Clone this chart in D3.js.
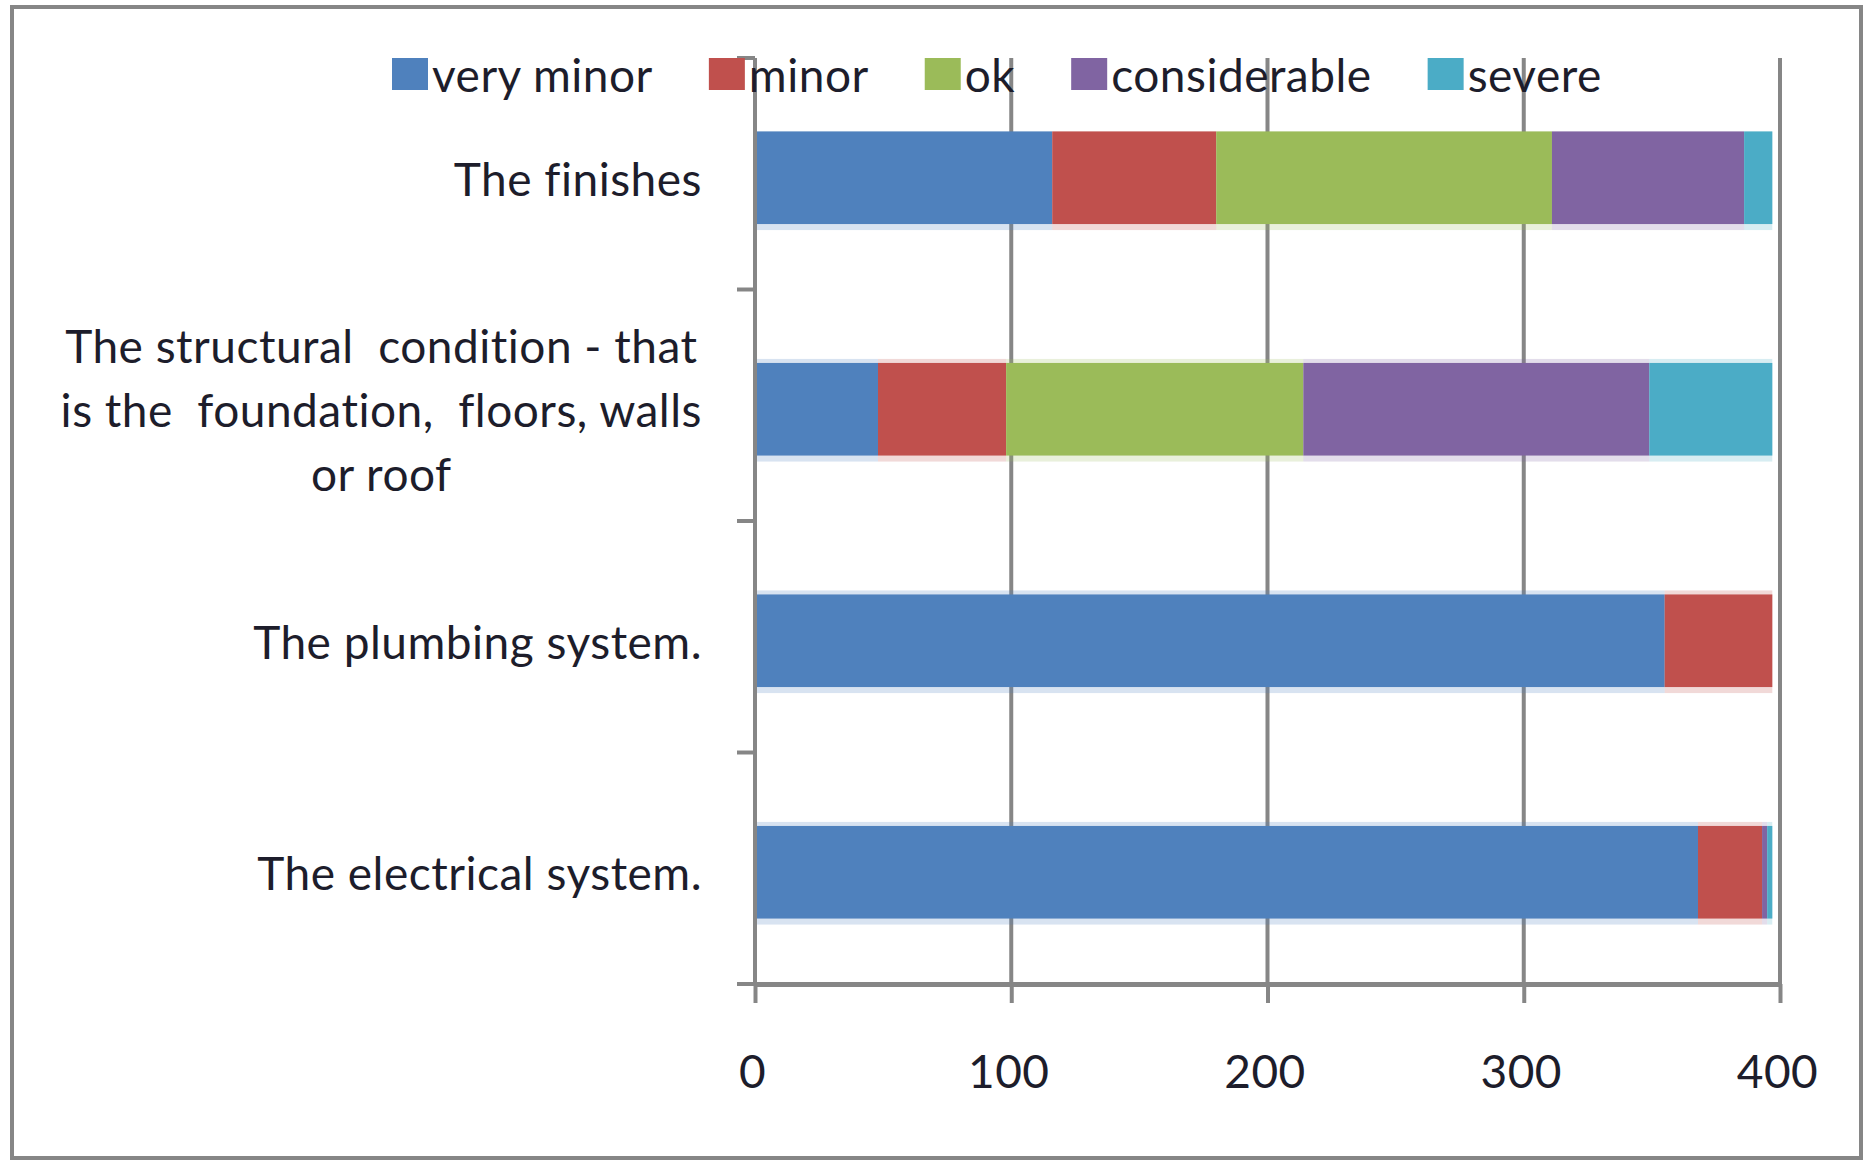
<!DOCTYPE html>
<html>
<head>
<meta charset="utf-8">
<script src="https://cdn.jsdelivr.net/npm/d3@7"></script>
<style>
  body { margin: 0; background: #fff; }
  text { font-family: Lato, "Liberation Sans", sans-serif; fill: #1d1d2b; white-space: pre; letter-spacing: 0.5px; }
</style>
</head>
<body>
<script>
// categories (top to bottom) and how excel wrapped them on the axis
var categories = ["The finishes", "The structural condition", "The plumbing system.", "The electrical system."]
var categoryLines = [
  ["The finishes"],
  ["The structural  condition - that", "is the  foundation,  floors, walls", "or roof"],
  ["The plumbing system."],
  ["The electrical system."]
]

// series, one value per category
var seriesNames = ["very minor", "minor", "ok", "considerable", "severe"]
var veryMinor = [116, 48, 355, 368]
var minor = [64, 50, 42, 25]
var ok = [131, 116, 0, 0]
var considerable = [75, 135, 0, 2]
var severe = [11, 48, 0, 2]

var xTicks = [0, 100, 200, 300, 400]
var colors = ["#4F81BD", "#C0504D", "#9BBB59", "#8064A2", "#4BACC6"]

// set the dimensions and margins of the graph
var width = 1865,
    height = 1160,
    margin = {top: 58, left: 755, right: 85, bottom: 176},
    innerW = width - margin.left - margin.right,
    innerH = height - margin.top - margin.bottom,
    gridColor = "#868686",
    fontSize = 46

// one row per category for the stack
var rows = categories.map(function(c, i) {
  return {category: c, "very minor": veryMinor[i], "minor": minor[i], "ok": ok[i],
          "considerable": considerable[i], "severe": severe[i]}
})
var stacked = d3.stack().keys(seriesNames)(rows)

var x = d3.scaleLinear()
  .domain([0, 400])
  .range([0, innerW])

var y = d3.scaleBand()
  .domain(categories)
  .range([0, innerH])
  .paddingInner(0.6)
  .paddingOuter(0.3)

var color = d3.scaleOrdinal()
  .domain(seriesNames)
  .range(colors)

let svg = d3.select("body")
  .append("svg")
    .attr("width", width)
    .attr("height", height)

// outer chart frame
svg.append("rect")
  .attr("x", 12).attr("y", 7)
  .attr("width", width - 16).attr("height", height - 9)
  .attr("fill", "none")
  .attr("stroke", gridColor)
  .attr("stroke-width", 4)

let g = svg.append("g")
  .attr("transform", "translate(" + margin.left + "," + margin.top + ")")

// vertical gridlines
g.selectAll(".grid")
  .data(xTicks)
  .enter()
  .append("line")
    .attr("class", "grid")
    .attr("x1", function(d) { return x(d) })
    .attr("x2", function(d) { return x(d) })
    .attr("y1", 0)
    .attr("y2", innerH)
    .attr("stroke", gridColor)
    .attr("stroke-width", 4)

// stacked bars (a faint halo first, like the blurry excel export)
var barShift = 4
var layers = g.selectAll(".layer")
  .data(stacked)
  .enter()
  .append("g")
    .attr("class", "layer")
    .attr("fill", function(d) { return color(d.key) })

layers.selectAll(".halo")
  .data(function(d) { return d })
  .enter()
  .append("rect")
    .attr("class", "halo")
    .attr("x", function(d) { return x(d[0]) })
    .attr("width", function(d) { return x(d[1]) - x(d[0]) })
    .attr("y", function(d, i) { return y(d.data.category) + barShift - (i === 0 ? 0 : 4) })
    .attr("height", function(d, i) { return y.bandwidth() + (i === 0 ? 6 : 10) })
    .style("opacity", 0.22)

layers.selectAll(".bar")
  .data(function(d) { return d })
  .enter()
  .append("rect")
    .attr("class", "bar")
    .attr("x", function(d) { return x(d[0]) })
    .attr("width", function(d) { return x(d[1]) - x(d[0]) })
    .attr("y", function(d) { return y(d.data.category) + barShift })
    .attr("height", y.bandwidth())

// y axis line with category tick marks between the bands
g.append("line")
  .attr("x1", 0).attr("x2", 0)
  .attr("y1", 0).attr("y2", innerH)
  .attr("stroke", gridColor).attr("stroke-width", 4)

g.selectAll(".ytick")
  .data(d3.range(categories.length + 1))
  .enter()
  .append("line")
    .attr("class", "ytick")
    .attr("x1", -18).attr("x2", 0)
    .attr("y1", function(i) { return i * y.step() })
    .attr("y2", function(i) { return i * y.step() })
    .attr("stroke", gridColor).attr("stroke-width", 4)

// x axis
let xAxis = g.append("g")
  .attr("transform", "translate(0," + innerH + ")")
  .call(d3.axisBottom(x).tickValues(xTicks).tickSize(19).tickSizeOuter(0).tickPadding(52))

xAxis.select(".domain").attr("stroke", gridColor).attr("stroke-width", 5)
xAxis.selectAll(".tick line").attr("stroke", gridColor).attr("stroke-width", 4)
xAxis.selectAll(".tick text")
  .attr("fill", null)
  .style("font-family", "Lato, 'Liberation Sans', sans-serif")
  .style("font-size", fontSize + "px")
  .attr("dx", -3)

// category labels, single lines right aligned, wrapped ones centred as a block
var lineGap = 64
categoryLines.forEach(function(lines, i) {
  var cy = y(categories[i]) + y.bandwidth() / 2 + barShift
  var label = g.append("text")
    .style("font-size", fontSize + "px")
    .attr("dominant-baseline", "central")
  lines.forEach(function(line, k) {
    label.append("tspan")
      .attr("y", cy + (k - (lines.length - 1) / 2) * lineGap)
      .text(line)
  })
  var maxW = d3.max(label.selectAll("tspan").nodes(), function(n) { return n.getComputedTextLength() })
  if (lines.length === 1) {
    label.attr("text-anchor", "end").selectAll("tspan").attr("x", -53)
  } else {
    label.attr("text-anchor", "middle").selectAll("tspan").attr("x", -53 - maxW / 2)
  }
})

// legend along the top
let legend = svg.append("g")
  .attr("transform", "translate(392," + margin.top + ")")
var lx = 0
seriesNames.forEach(function(name) {
  legend.append("rect")
    .attr("x", lx).attr("y", 0)
    .attr("width", 36).attr("height", 32)
    .attr("fill", color(name))
  var t = legend.append("text")
    .attr("x", lx + 40).attr("y", 16)
    .attr("dominant-baseline", "central")
    .style("font-size", fontSize + "px")
    .text(name)
  lx += 40 + t.node().getComputedTextLength() + 56
})
</script>
</body>
</html>
